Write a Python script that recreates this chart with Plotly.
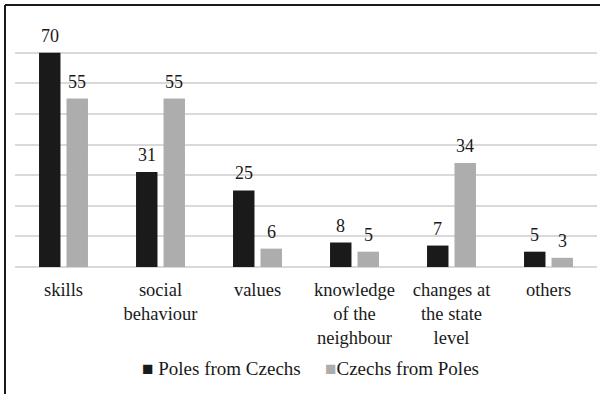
import plotly.graph_objects as go

categories = ["skills", "social<br>behaviour", "values", "knowledge<br>of the<br>neighbour",
              "changes at<br>the state<br>level", "others"]
poles_from_czechs = [70, 31, 25, 8, 7, 5]
czechs_from_poles = [55, 55, 6, 5, 34, 3]
series_names = ["Poles from Czechs", "Czechs from Poles"]
series_colors = ["#1a1a1a", "#adadad"]

FONT = "Liberation Serif"
BAR_GAP = 0.433
BAR_GROUP_GAP = 0.22

W, H = 600, 394
M = dict(l=15, r=3, t=22, b=127)

fig = go.Figure()
for name, vals, col in zip(series_names, [poles_from_czechs, czechs_from_poles], series_colors):
    fig.add_trace(go.Bar(x=categories, y=vals, name=name, marker=dict(color=col, line=dict(width=0)),
                         showlegend=False, hoverinfo="x+y+name"))

# value labels above each bar, centred on the bar's slot within its group
slot = (1 - BAR_GAP) / 2
for k, vals in enumerate([poles_from_czechs, czechs_from_poles]):
    offset = (k - 0.5) * slot
    for i, v in enumerate(vals):
        fig.add_annotation(x=i + offset, y=v, xref="x", yref="y", text=str(v),
                           showarrow=False, yanchor="bottom", yshift=5,
                           font=dict(family=FONT, size=18, color="#1a1a1a"))

# legend drawn as text items with coloured squares
pw = W - M["l"] - M["r"]
ph = H - M["t"] - M["b"]
legend_y = 1 - (368 - M["t"]) / ph
for name, col, px, sep in zip(series_names, series_colors, [140, 323], [" ", ""]):
    fig.add_annotation(x=(px - M["l"]) / pw, y=legend_y, xref="paper", yref="paper",
                       xanchor="left", yanchor="middle", showarrow=False,
                       text=f"<span style='color:{col}'>■</span>{sep}{name}",
                       font=dict(family=FONT, size=19, color="#1a1a1a"))

# frame lines along the top and left edges of the figure
fx = (5 - M["l"]) / pw
fy = 1 + (M["t"] - 5) / ph
fb = -(H - M["t"] - ph) / ph - 0.05
fr = 1 + (M["r"] + 2) / pw
fig.add_shape(type="line", xref="paper", yref="paper", x0=fx, x1=fx, y0=fb, y1=fy,
              line=dict(color="#1a1a1a", width=2))
fig.add_shape(type="line", xref="paper", yref="paper", x0=fx, x1=fr, y0=fy, y1=fy,
              line=dict(color="#1a1a1a", width=2))

fig.update_layout(
    width=W, height=H, margin=M,
    paper_bgcolor="white", plot_bgcolor="white",
    barmode="group", bargap=BAR_GAP, bargroupgap=BAR_GROUP_GAP,
    font_family=FONT, font_size=18, font_color="#1a1a1a",
)
fig.update_xaxes(showgrid=False, showline=False, ticks="", tickfont_family=FONT, tickfont_size=18.5,
                 ticklabelstandoff=9, fixedrange=True)
fig.update_yaxes(range=[0, 80], dtick=10, showticklabels=False, showgrid=True,
                 gridcolor="#d9d9d9", gridwidth=1.5, zeroline=True, zerolinecolor="#d9d9d9",
                 zerolinewidth=1.5, showline=False, fixedrange=True)

fig.write_html("out.html")
